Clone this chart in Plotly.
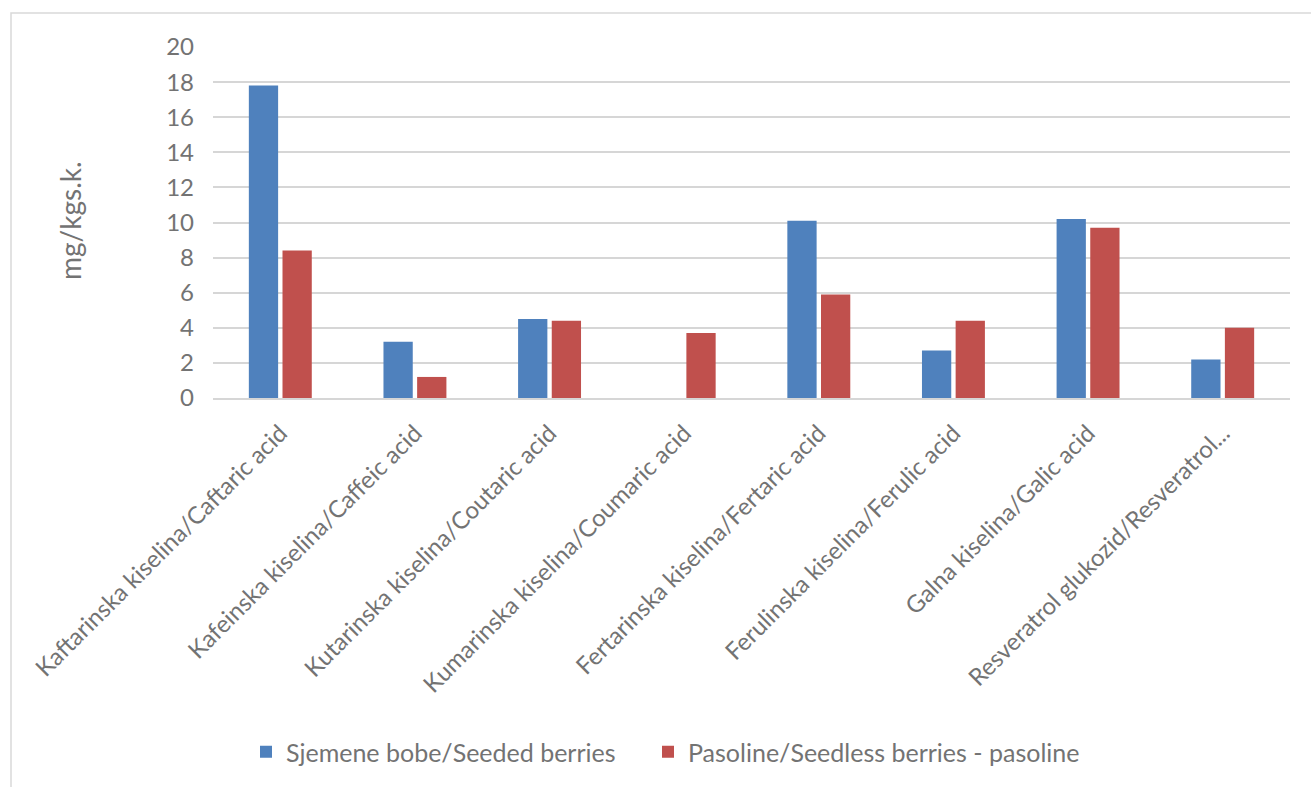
import plotly.graph_objects as go

# Phenolic compounds measured in the berries
categories = [
    "Kaftarinska kiselina/Caftaric acid",
    "Kafeinska kiselina/Caffeic acid",
    "Kutarinska kiselina/Coutaric acid",
    "Kumarinska kiselina/Coumaric acid",
    "Fertarinska kiselina/Fertaric acid",
    "Ferulinska kiselina/Ferulic acid",
    "Galna kiselina/Galic acid",
    "Resveratrol glukozid/Resveratrol...",
]
seeded = [17.8, 3.2, 4.5, 0.0, 10.1, 2.7, 10.2, 2.2]
seedless = [8.4, 1.2, 4.4, 3.7, 5.9, 4.4, 9.7, 4.0]
y_ticks = [0, 2, 4, 6, 8, 10, 12, 14, 16, 18, 20]

series_names = ["Sjemene bobe/Seeded berries", "Pasoline/Seedless berries - pasoline"]
y_title = "mg/kgs.k."

W, H = 1311, 787
L, R, T, B = 213, 21, 47, 389
plot_w = W - L - R
plot_h = H - T - B

def px_x(px):
    return (px - L) / plot_w

def px_y(py):
    return (H - B - py) / plot_h

FONT = "Lato, Open Sans, sans-serif"
TEXT = "#737373"
GRID = "#d6d6d6"

fig = go.Figure()
fig.add_trace(go.Bar(x=categories, y=seeded, name=series_names[0],
                     marker=dict(color="#4F81BD", line=dict(width=0)),
                     legend="legend"))
fig.add_trace(go.Bar(x=categories, y=seedless, name=series_names[1],
                     marker=dict(color="#C0504D", line=dict(width=0)),
                     legend="legend2"))

legend_common = dict(orientation="h", yanchor="middle", y=px_y(752),
                     xanchor="left",
                     font=dict(family=FONT, size=25, color=TEXT),
                     itemsizing="constant", bgcolor="rgba(0,0,0,0)")

fig.update_layout(
    width=W, height=H,
    margin=dict(l=L, r=R, t=T, b=B, autoexpand=False),
    paper_bgcolor="white", plot_bgcolor="white",
    barmode="group", bargap=0.5, bargroupgap=0.13,
    font=dict(family=FONT, color=TEXT, size=24),
    showlegend=True,
    legend=dict(x=px_x(246), **legend_common),
    legend2=dict(x=px_x(648), **legend_common),
    xaxis=dict(tickangle=-45, tickfont=dict(family=FONT, size=24, color=TEXT),
               ticklabelstandoff=10,
               showgrid=False, showline=True, linecolor=GRID, linewidth=1.5,
               ticks="", fixedrange=True, automargin=False),
    yaxis=dict(range=[0, 20], tickvals=y_ticks, ticktext=[str(v) for v in y_ticks],
               tickfont=dict(family=FONT, size=24, color=TEXT),
               ticklabelstandoff=18,
               showgrid=True, gridcolor=GRID, gridwidth=1.5,
               zeroline=False, showline=False, ticks="",
               automargin=False),
    shapes=[dict(type="rect", xref="paper", yref="paper",
                 x0=px_x(11), y0=px_y(13), x1=px_x(1330), y1=px_y(810),
                 line=dict(color="#d9d9d9", width=1.5), fillcolor="rgba(0,0,0,0)",
                 layer="below")],
    annotations=[dict(text=y_title, xref="paper", yref="paper",
                      x=px_x(70), y=px_y(221), textangle=-90, showarrow=False,
                      font=dict(family=FONT, size=28, color=TEXT),
                      xanchor="center", yanchor="middle")],
)

fig.write_html("out.html")
